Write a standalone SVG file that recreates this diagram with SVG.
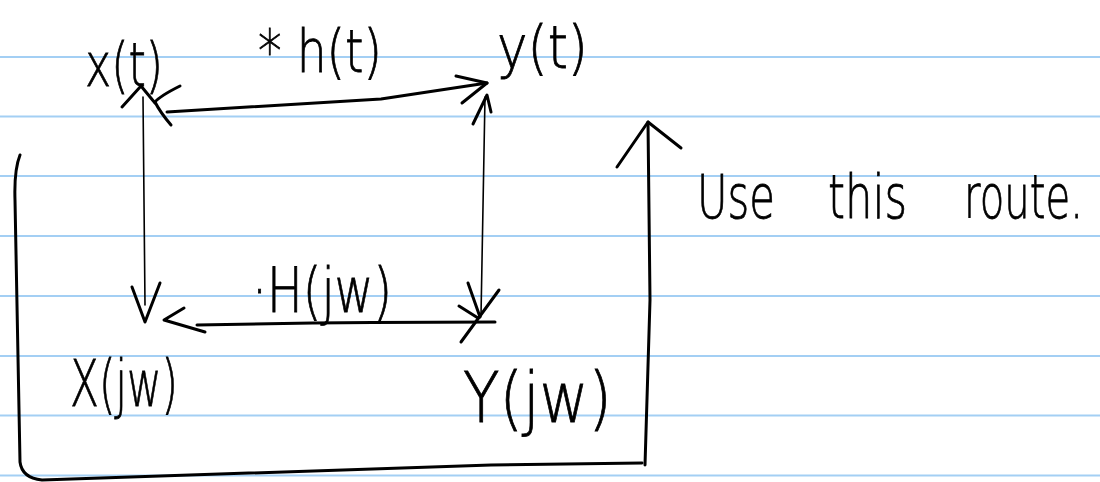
<svg xmlns="http://www.w3.org/2000/svg" width="1100" height="482" viewBox="0 0 1100 482">
  <style>
    .rule { stroke: #a3cff4; stroke-width: 2; }
    .ink { fill: none; stroke: #000; stroke-linecap: round; stroke-linejoin: round; }
    .pen { stroke-width: 3; }
    .fine { stroke-width: 1.6; }
    .hand { font-family: "DejaVu Sans", "Liberation Sans", sans-serif; font-weight: 200; fill: #000; stroke: #000; stroke-width: 0.8; }
  </style>

  <!-- notebook paper -->
  <rect width="1100" height="482" fill="#fff"/>
  <g id="ruling">
    <line class="rule" x1="0" y1="57" x2="1100" y2="57"/>
    <line class="rule" x1="0" y1="116.5" x2="1100" y2="116.5"/>
    <line class="rule" x1="0" y1="176" x2="1100" y2="176"/>
    <line class="rule" x1="0" y1="236" x2="1100" y2="236"/>
    <line class="rule" x1="0" y1="296" x2="1100" y2="296"/>
    <line class="rule" x1="0" y1="356" x2="1100" y2="356"/>
    <line class="rule" x1="0" y1="415.5" x2="1100" y2="415.5"/>
    <line class="rule" x1="0" y1="475.5" x2="1100" y2="475.5"/>
  </g>

  <!-- signal nodes -->
  <g id="node-x-t">
    <text class="hand" x="85" y="86" font-size="60" textLength="78" lengthAdjust="spacingAndGlyphs">x(t)</text>
  </g>
  <g id="node-y-t">
    <text class="hand" x="497" y="68" font-size="58" textLength="91" lengthAdjust="spacingAndGlyphs">y(t)</text>
  </g>
  <g id="node-X-jw">
    <text class="hand" x="70" y="406" font-size="64" textLength="108" lengthAdjust="spacingAndGlyphs">X(jw)</text>
  </g>
  <g id="node-Y-jw">
    <text class="hand" x="463" y="422" font-size="70" textLength="149" lengthAdjust="spacingAndGlyphs">Y(jw)</text>
  </g>

  <!-- operation labels -->
  <g id="label-conv">
    <text class="hand" x="258" y="72" font-size="58" textLength="124" lengthAdjust="spacingAndGlyphs">* h(t)</text>
  </g>
  <g id="label-mult">
    <text class="hand" x="252" y="312" font-size="62" textLength="140" lengthAdjust="spacingAndGlyphs">·H(jw)</text>
  </g>
  <g id="note">
    <text class="hand" x="697" y="218" font-size="60" textLength="78" lengthAdjust="spacingAndGlyphs">Use</text>
    <text class="hand" x="828" y="218" font-size="60" textLength="79" lengthAdjust="spacingAndGlyphs">this</text>
    <!-- narrow pen lettering: squeeze horizontally only -->
    <text class="hand" transform="translate(964 218) scale(0.67 1)" x="0" y="0" font-size="60">route.</text>
  </g>

  <!-- connectors -->
  <g id="connectors" class="ink">
    <!-- x(t) <-> y(t) -->
    <path class="pen" d="M167 112 L381 99 L487 83"/>
    <path class="pen" d="M456 76 L487 83 L462 103"/>
    <path class="pen" d="M180 86 Q160 96 155 102 Q160 112 171 125"/>

    <!-- x(t) <-> X(jw) -->
    <path class="fine" d="M143 97 L145 305"/>
    <path class="pen" d="M122 107 L141 86 L155 103"/>
    <path class="pen" d="M132 287 L145 322 L160 283"/>

    <!-- y(t) <-> Y(jw) -->
    <path class="fine" d="M485 97 L481 316"/>
    <path class="pen" d="M473 124 L487 95 L491 112"/>
    <path class="pen" d="M468 283 L480 317"/>
    <path class="pen" d="M499 290 L461 342"/>

    <!-- X(jw) <-> Y(jw) -->
    <path class="pen" d="M197 325 Q340 322 495 322"/>
    <path class="pen" d="M184 308 L164 320 L205 332"/>
    <path class="pen" d="M459 306 L478 318"/>

    <!-- suggested route: down, across the bottom, back up -->
    <path class="pen" d="M20 155 Q14 170 15 200 L20 462 Q22 478 42 480 L491 465 L642 463"/>
    <path class="pen" d="M645 465 L650 300 L648 122"/>
    <path class="pen" d="M617 167 L648 122 L681 148"/>
  </g>
</svg>
